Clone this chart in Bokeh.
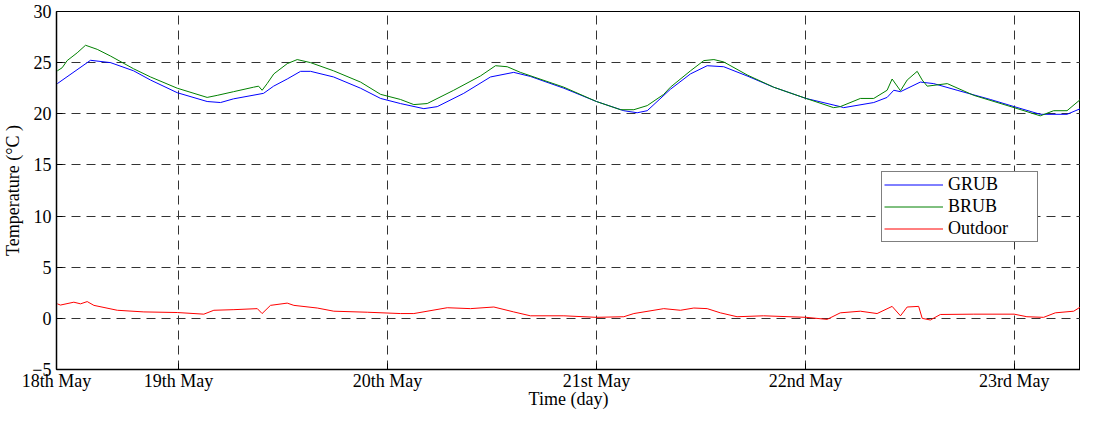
from bokeh.plotting import figure
from bokeh.models import Range1d, FixedTicker, Legend, LegendItem
from bokeh.embed import file_html
from bokeh.resources import INLINE

# ---- data (time in days of May) ----
grub_t = [18.420, 18.579, 18.675, 18.785, 18.866, 18.994, 19.137, 19.201, 19.263, 19.407,
          19.455, 19.520, 19.584, 19.632, 19.742, 19.871, 19.967, 20.062, 20.174, 20.238,
          20.365, 20.493, 20.604, 20.684, 20.844, 21.000, 21.131, 21.195, 21.243, 21.354,
          21.450, 21.530, 21.609, 21.721, 21.848, 22.003, 22.167, 22.183, 22.327, 22.391,
          22.423, 22.455, 22.550, 22.614, 22.726, 22.885, 22.999, 23.124, 23.252, 23.316,
          23.392]
grub_v = [22.95, 25.23, 25.0, 24.2, 23.3, 22.06, 21.2, 21.1, 21.46, 22.0,
          22.7, 23.4, 24.15, 24.15, 23.6, 22.5, 21.5, 21.0, 20.5, 20.7,
          22.0, 23.6, 24.05, 23.65, 22.5, 21.2, 20.3, 20.1, 20.3, 22.4,
          23.9, 24.7, 24.6, 23.7, 22.6, 21.5, 20.7, 20.6, 21.1, 21.6,
          22.3, 22.16, 23.1, 22.95, 22.3, 21.4, 20.7, 19.95, 19.95, 20.5,
          20.9]

brub_t = [18.420, 18.443, 18.467, 18.515, 18.555, 18.611, 18.675, 18.785, 18.866, 18.994,
          19.137, 19.185, 19.263, 19.359, 19.383, 19.400, 19.424, 19.456, 19.520, 19.568,
          19.632, 19.742, 19.871, 19.967, 20.062, 20.126, 20.190, 20.317, 20.445, 20.517,
          20.573, 20.636, 20.844, 21.000, 21.115, 21.179, 21.243, 21.322, 21.354, 21.450,
          21.514, 21.562, 21.609, 21.721, 21.848, 22.003, 22.135, 22.167, 22.263, 22.327,
          22.391, 22.415, 22.455, 22.487, 22.535, 22.559, 22.583, 22.679, 22.806, 22.999,
          23.124, 23.188, 23.252, 23.316, 23.392]
brub_v = [24.2, 24.5, 25.2, 25.96, 26.7, 26.3, 25.64, 24.4, 23.6, 22.5,
          21.6, 21.8, 22.16, 22.6, 22.7, 22.3, 22.95, 23.9, 24.9, 25.3,
          25.0, 24.2, 23.1, 21.9, 21.4, 20.9, 21.0, 22.3, 23.7, 24.7,
          24.6, 24.05, 22.6, 21.2, 20.4, 20.4, 20.8, 21.9, 22.6, 24.2,
          25.2, 25.3, 25.07, 23.8, 22.6, 21.5, 20.6, 20.7, 21.5, 21.5,
          22.3, 23.4, 22.25, 23.3, 24.15, 23.3, 22.7, 22.95, 21.8, 20.6,
          19.8, 20.3, 20.3, 21.4, 21.5]

out_t = [18.420, 18.435, 18.499, 18.531, 18.563, 18.595, 18.707, 18.834, 18.994, 19.121,
         19.169, 19.265, 19.377, 19.400, 19.440, 19.520, 19.552, 19.664, 19.743, 19.903,
         20.062, 20.126, 20.286, 20.397, 20.509, 20.604, 20.684, 20.844, 21.000, 21.131,
         21.179, 21.322, 21.402, 21.466, 21.530, 21.593, 21.673, 21.800, 22.003, 22.104,
         22.167, 22.263, 22.343, 22.415, 22.455, 22.487, 22.542, 22.559, 22.598, 22.646,
         22.806, 22.999, 23.060, 23.140, 23.196, 23.284, 23.316, 23.348, 23.392]
out_v = [1.42, 1.3, 1.58, 1.42, 1.64, 1.27, 0.79, 0.63, 0.57, 0.41,
         0.79, 0.85, 0.95, 0.47, 1.27, 1.49, 1.27, 1.01, 0.7, 0.6,
         0.47, 0.47, 1.04, 0.95, 1.11, 0.63, 0.25, 0.25, 0.1, 0.16,
         0.47, 0.95, 0.79, 1.01, 0.95, 0.54, 0.16, 0.25, 0.1, -0.1,
         0.54, 0.7, 0.47, 1.17, 0.25, 1.11, 1.17, 0.0, -0.16, 0.38,
         0.41, 0.41, 0.16, 0.1, 0.54, 0.7, 1.11, 0.79, 0.73]

x_tick_pos = [18.416, 19, 20, 21, 22, 23]
x_tick_labels = ["18th May", "19th May", "20th May", "21st May", "22nd May", "23rd May"]
y_ticks = [-5, 0, 5, 10, 15, 20, 25, 30]

FONT = "Liberation Serif"

p = figure(width=1080, height=411, output_backend="svg", toolbar_location=None,
           x_range=Range1d(18.416, 23.3165), y_range=Range1d(-5, 30),
           min_border_left=56, min_border_right=0, min_border_top=11, min_border_bottom=42)

p.background_fill_color = "white"
p.border_fill_color = "white"
p.outline_line_color = "black"
p.outline_line_width = 1

r1 = p.line(grub_t, grub_v, line_color="#0000FF", line_width=1)
r2 = p.line(brub_t, brub_v, line_color="#008000", line_width=1)
r3 = p.line(out_t, out_v, line_color="#FF0000", line_width=1)

p.xaxis.ticker = FixedTicker(ticks=x_tick_pos)
p.xaxis.major_label_overrides = dict(zip(x_tick_pos, x_tick_labels))
p.yaxis.ticker = FixedTicker(ticks=y_ticks)
p.xgrid.ticker = FixedTicker(ticks=x_tick_pos)
p.ygrid.ticker = FixedTicker(ticks=y_ticks)

for g in (p.xgrid[0], p.ygrid[0]):
    g.grid_line_color = "#333333"
    g.grid_line_dash = "9 6"
    g.grid_line_width = 1

for ax in (p.xaxis[0], p.yaxis[0]):
    ax.axis_line_color = "black"
    ax.axis_line_width = 1.5
    ax.major_tick_in = 6
    ax.major_tick_out = 0
    ax.minor_tick_line_color = None
    ax.major_tick_line_color = "black"
    ax.major_label_text_font = FONT
    ax.major_label_text_font_size = "18px"
    ax.major_label_text_color = "black"
    ax.axis_label_text_font = FONT
    ax.axis_label_text_font_size = "18px"
    ax.axis_label_text_font_style = "normal"
    ax.axis_label_text_color = "black"

p.xaxis.axis_label = "Time (day)"
p.xaxis.major_label_standoff = 1
p.xaxis.axis_label_standoff = -5
p.yaxis.axis_label = "Temperature (°C )"
p.yaxis.major_label_standoff = 5
p.yaxis.axis_label_standoff = 6

legend = Legend(items=[LegendItem(label="GRUB", renderers=[r1]),
                       LegendItem(label="BRUB", renderers=[r2]),
                       LegendItem(label="Outdoor", renderers=[r3])],
                location=(825, 127))
legend.label_text_font = FONT
legend.label_text_font_size = "18px"
legend.label_text_color = "black"
legend.border_line_color = "black"
legend.border_line_width = 1.5
legend.background_fill_color = "white"
legend.background_fill_alpha = 1
legend.padding = 2
legend.spacing = 1
legend.margin = 0
legend.glyph_width = 59
legend.glyph_height = 21
legend.label_height = 21
legend.label_width = 87
legend.label_standoff = 5
p.add_layout(legend, "center")

open("out.html", "w").write(file_html(p, INLINE))
